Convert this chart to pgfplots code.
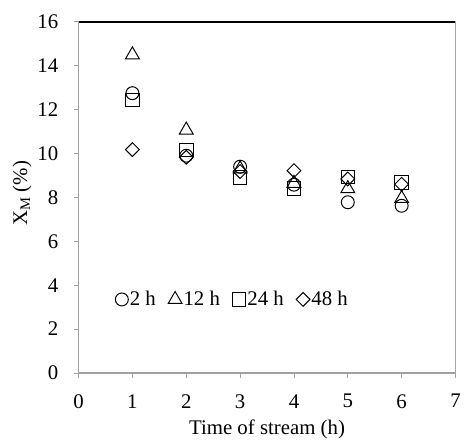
\documentclass[border=0pt]{standalone}
\usepackage{fontspec}
\setmainfont{Liberation Serif}
\usepackage{pgfplots}
\pgfplotsset{compat=1.18}
\definecolor{axgray}{RGB}{160,160,160}

\begin{document}
\begin{tikzpicture}[font=\fontsize{21}{25}\selectfont]
\begin{axis}[
  scale only axis, width=379bp, height=353bp,
  xmin=0, xmax=7, ymin=0, ymax=16,
  xtick={0,...,7}, ytick={0,2,...,16},
  axis x line*=bottom, axis y line*=left,
  axis line style={-, draw=axgray, line width=1.2pt},
  tick style={draw=axgray, line width=0.8pt},
  tick align=outside, major tick length=5bp,
  /pgf/number format/assume math mode=true,
  xticklabel style={yshift=-13bp},
  yticklabel style={xshift=-12bp},
  xlabel={Time of stream (h)},
  ylabel={X\textsubscript{M} (\%)},
  xlabel style={yshift=-5bp},
  ylabel style={yshift=-1bp, xshift=4bp},
  legend columns=4,
  legend style={draw=none, fill=none, at={(axis cs:0.68,3.35)}, anchor=west,
    /tikz/every even column/.append style={column sep=11bp},
    nodes={inner sep=1.5bp}, inner sep=0pt},
  legend image code/.code={\draw[#1] plot coordinates {(0cm,0cm)};},
  every axis plot/.append style={only marks, black, line width=1pt},
]
\addplot[mark=o, mark size=6.5bp] coordinates {
 (1,12.75) (2,9.9) (3,9.4) (4,8.58) (5,7.78) (6,7.62)};
\addlegendentry{2 h}
\addplot[mark=triangle, mark size=8bp] coordinates {
 (1,14.5) (2,11.07) (3,9.3) (4,8.64) (5,8.4) (6,7.95)};
\addlegendentry{12 h}
\addplot[mark=square, mark size=6.8bp] coordinates {
 (1,12.43) (2,10.17) (3,8.9) (4,8.4) (5,8.92) (6,8.68)};
\addlegendentry{24 h}
\addplot[mark=square, mark size=4.9bp, mark options={rotate=45}] coordinates {
 (1,10.18) (2,9.83) (3,9.18) (4,9.22) (5,8.84) (6,8.6)};
\addlegendentry{48 h}
\draw[black, line width=1.3pt] (rel axis cs:0,1) -- (rel axis cs:1,1) -- (rel axis cs:1,0);
\end{axis}
\path (current axis.south west) ++(-79bp,-67bp) rectangle ++(464bp,442bp);
\end{tikzpicture}
\end{document}
